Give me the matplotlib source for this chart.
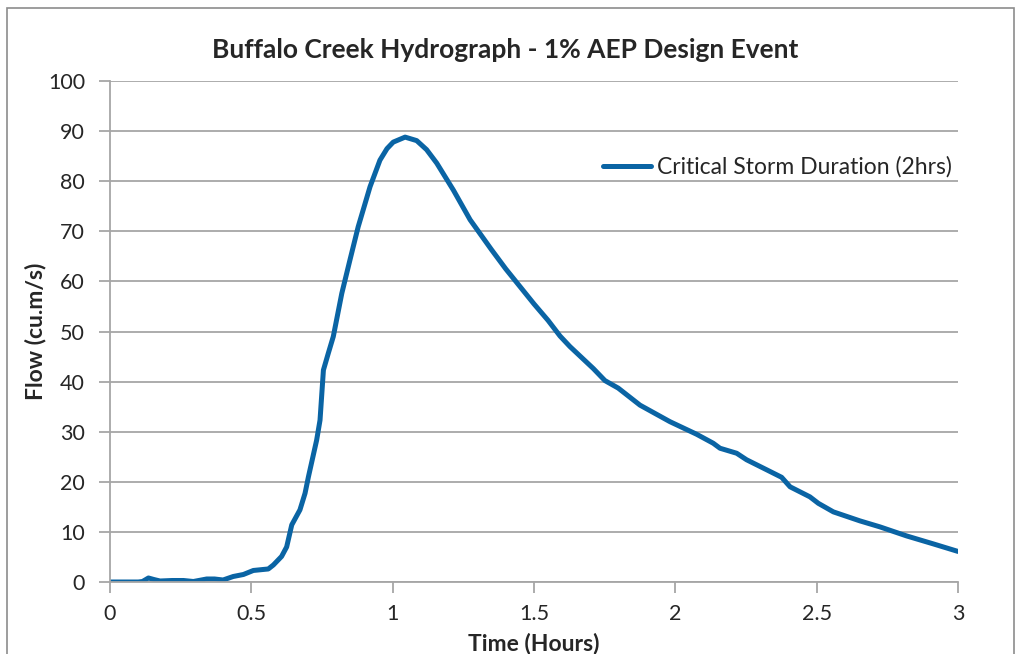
import matplotlib.pyplot as plt
from matplotlib.patches import Rectangle

# Hydrograph values
time_hrs = [0.0, 0.05, 0.10, 0.115, 0.136, 0.155, 0.177, 0.22, 0.26, 0.295, 0.342,
            0.37, 0.40, 0.436, 0.472, 0.507, 0.542, 0.56, 0.578, 0.607, 0.625,
            0.643, 0.672, 0.69, 0.702, 0.731, 0.743, 0.755, 0.772, 0.79, 0.82,
            0.849, 0.878, 0.92, 0.955, 0.98, 1.002, 1.044, 1.085, 1.12, 1.156,
            1.215, 1.274, 1.35, 1.40, 1.45, 1.50, 1.55, 1.592, 1.627, 1.71,
            1.751, 1.798, 1.875, 1.981, 2.075, 2.134, 2.158, 2.217, 2.252, 2.323,
            2.376, 2.406, 2.476, 2.506, 2.559, 2.653, 2.724, 2.818, 2.913, 3.0]
flow = [0.0, 0.0, 0.0, 0.1, 0.8, 0.5, 0.2, 0.3, 0.3, 0.1, 0.6,
        0.6, 0.4, 1.1, 1.5, 2.3, 2.5, 2.6, 3.4, 5.1, 7.0,
        11.4, 14.4, 17.7, 21.0, 28.3, 32.3, 42.3, 45.6, 49.0, 57.6,
        64.3, 70.9, 78.9, 84.2, 86.5, 87.8, 88.8, 88.1, 86.3, 83.6,
        78.2, 72.3, 66.3, 62.5, 59.0, 55.5, 52.2, 49.1, 47.0, 42.6,
        40.2, 38.7, 35.3, 32.0, 29.5, 27.7, 26.7, 25.7, 24.4, 22.4,
        20.9, 19.0, 17.0, 15.7, 14.0, 12.2, 11.0, 9.2, 7.6, 6.1]

plt.rcParams["font.family"] = ["Lato", "DejaVu Sans"]

fig = plt.figure(figsize=(10.2, 6.54), dpi=100)
ax = fig.add_axes([110 / 1020, 1 - 582 / 654, 848 / 1020, 501 / 654])

# outer chart border
fig.patches.append(Rectangle((7 / 1020, -0.02), 1007 / 1020, 1 - 8 / 654 + 0.02,
                             transform=fig.transFigure, fill=False,
                             edgecolor="#8c8c8c", linewidth=1.2))

ax.plot(time_hrs, flow, color="#0a64a4", linewidth=3.6,
        solid_capstyle="round", solid_joinstyle="round",
        label="Critical Storm Duration (2hrs)")

ax.set_xlim(0, 3)
ax.set_ylim(0, 100)
ax.set_xticks([0, 0.5, 1, 1.5, 2, 2.5, 3])
ax.set_xticklabels(["0", "0.5", "1", "1.5", "2", "2.5", "3"])
ax.set_yticks(range(0, 101, 10))

ax.grid(axis="y", color="#a6a6a6", linewidth=1.3)
ax.set_axisbelow(True)
for side in ["top", "right"]:
    ax.spines[side].set_visible(False)
for side in ["left", "bottom"]:
    ax.spines[side].set_color("#a6a6a6")
    ax.spines[side].set_linewidth(1.3)
ax.tick_params(axis="both", direction="out", length=8, width=1.3,
               color="#a6a6a6", labelsize=15.5, labelcolor="#262626")
ax.tick_params(axis="y", pad=10)
ax.tick_params(axis="x", pad=8)

# title is centred on the whole chart box, not the plot area
fig.text(505 / 1020, 1 - 50 / 654, "Buffalo Creek Hydrograph - 1% AEP Design Event",
         fontsize=19, fontweight="bold", color="#262626",
         ha="center", va="center")
ax.set_xlabel("Time (Hours)", fontsize=16.5, fontweight="bold",
              color="#262626", labelpad=6)
ax.set_ylabel("Flow (cu.m/s)", fontsize=16.5, fontweight="bold",
              color="#262626", labelpad=1)

ax.legend(loc="center right", bbox_to_anchor=(0.993, 0.828), frameon=False,
          fontsize=16.5, handlelength=2.1, handletextpad=0.25,
          borderpad=0, borderaxespad=0, labelcolor="#262626")

plt.savefig("out.png", dpi=100)
